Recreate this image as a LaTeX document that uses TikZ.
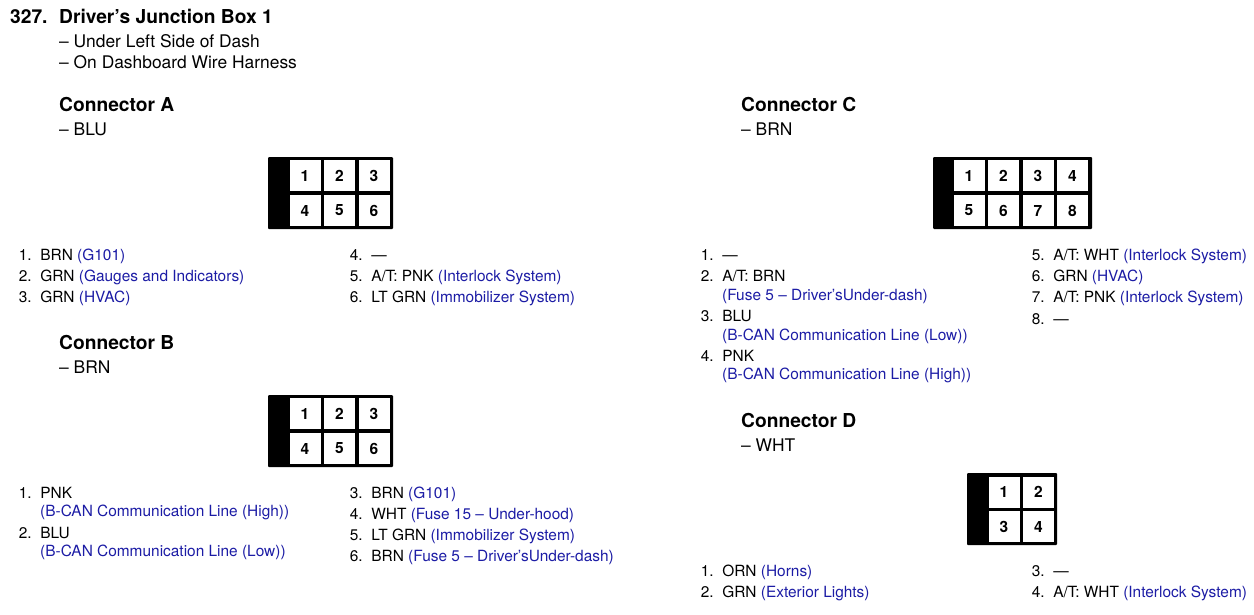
\documentclass[tikz,border=0pt]{standalone}
\usepackage{fontspec}
\setmainfont{TeX Gyre Heros}
\usetikzlibrary{positioning}
\definecolor{wireblue}{RGB}{28,28,165}
\newcommand{\wb}[1]{\textcolor{wireblue}{#1}}
\tikzset{
  title/.style={anchor=base west,inner sep=0pt,font=\fontsize{19.2}{20}\selectfont\bfseries},
  sub/.style={anchor=base west,inner sep=0pt,font=\fontsize{17.4}{20}\selectfont},
  item/.style={anchor=base west,inner sep=0pt,font=\fontsize{15.43}{18}\selectfont},
  shell/.style={fill=black,rounded corners=1pt},
  pin/.style={fill=white,inner sep=0pt,minimum width=31,minimum height=31,font=\fontsize{15.5}{18}\selectfont\bfseries},
}
\begin{document}
\begin{tikzpicture}[x=1pt,y=-1pt]
\useasboundingbox (0,0) rectangle (1254,614);
% heading
\node[title] (num) at (10,23) {327.};
\node[title] (head) at (59,23) {Driver’s Junction Box 1};
\node[sub] (loca) at (59,47) {– Under Left Side of Dash};
\node[sub] (locb) at (59,68) {– On Dashboard Wire Harness};
% connector names
\node[title] (cona) at (59,111) {Connector A};
\node[sub] (cola) at (59,135) {– BLU};
\node[title] (conb) at (59,349) {Connector B};
\node[sub] (colb) at (59,373) {– BRN};
\node[title] (conc) at (741,111) {Connector C};
\node[sub] (colc) at (741,135) {– BRN};
\node[title] (cond) at (741,427) {Connector D};
\node[sub] (cold) at (741,451) {– WHT};
% shells
\fill[shell] (268,157) rectangle (393,229);
\fill[shell] (268,395) rectangle (393,467);
\fill[shell] (933,157) rectangle (1092,229);
\fill[shell] (967,473) rectangle (1057,545);
% pins
\foreach \n/\x/\y in {1/305/175.5,2/339.5/175.5,3/374/175.5,4/305/210.5,5/339.5/210.5,6/374/210.5}
\node[pin] (a\n) at (\x,\y) {\n};
\foreach \n/\x/\y in {1/305/413.5,2/339.5/413.5,3/374/413.5,4/305/448.5,5/339.5/448.5,6/374/448.5}
\node[pin] (b\n) at (\x,\y) {\n};
\foreach \n/\x/\y in {1/969/175.5,2/1003.5/175.5,3/1038/175.5,4/1072.5/175.5,5/969/210.5,6/1003.5/210.5,7/1038/210.5,8/1072.5/210.5}
\node[pin] (c\n) at (\x,\y) {\n};
\foreach \n/\x/\y in {1/1004/492,2/1038.5/492,3/1004/526.5,4/1038.5/526.5}
\node[pin] (d\n) at (\x,\y) {\n};
% connector A list
\node[item] (la1) at (18.7,260) {1.\ \ BRN \wb{(G101)}};
\node[item] (la2) at (18.7,281) {2.\ \ GRN \wb{(Gauges and Indicators)}};
\node[item] (la3) at (18.7,302.5) {3.\ \ GRN \wb{(HVAC)}};
\node[item] (la4) at (349.7,260) {4.\ \ —};
\node[item] (la5) at (349.7,281) {5.\ \ A/T: PNK \wb{(Interlock System)}};
\node[item] (la6) at (349.7,302.5) {6.\ \ LT GRN \wb{(Immobilizer System)}};
% connector B list
\node[item] (lb1) at (18.7,498) {1.\ \ PNK};
\node[item] (lb1x) at (40,516) {\wb{(B-CAN Communication Line (High))}};
\node[item] (lb2) at (18.7,538) {2.\ \ BLU};
\node[item] (lb2x) at (40,556) {\wb{(B-CAN Communication Line (Low))}};
\node[item] (lb3) at (349.7,498) {3.\ \ BRN \wb{(G101)}};
\node[item] (lb4) at (349.7,519) {4.\ \ WHT \wb{(Fuse 15 – Under-hood)}};
\node[item] (lb5) at (349.7,540) {5.\ \ LT GRN \wb{(Immobilizer System)}};
\node[item] (lb6) at (349.7,561.5) {6.\ \ BRN \wb{(Fuse 5 – Driver’sUnder-dash)}};
% connector C list
\node[item] (lc1) at (700.7,260) {1.\ \ —};
\node[item] (lc2) at (700.7,281) {2.\ \ A/T: BRN};
\node[item] (lc2x) at (722,300) {\wb{(Fuse 5 – Driver’sUnder-dash)}};
\node[item] (lc3) at (700.7,321) {3.\ \ BLU};
\node[item] (lc3x) at (722,340) {\wb{(B-CAN Communication Line (Low))}};
\node[item] (lc4) at (700.7,361) {4.\ \ PNK};
\node[item] (lc4x) at (722,379) {\wb{(B-CAN Communication Line (High))}};
\node[item] (lc5) at (1031.7,260) {5.\ \ A/T: WHT \wb{(Interlock System)}};
\node[item] (lc6) at (1031.7,281) {6.\ \ GRN \wb{(HVAC)}};
\node[item] (lc7) at (1031.7,302.5) {7.\ \ A/T: PNK \wb{(Interlock System)}};
\node[item] (lc8) at (1031.7,324) {8.\ \ —};
% connector D list
\node[item] (ld1) at (700.7,576) {1.\ \ ORN \wb{(Horns)}};
\node[item] (ld2) at (700.7,597) {2.\ \ GRN \wb{(Exterior Lights)}};
\node[item] (ld3) at (1031.7,576) {3.\ \ —};
\node[item] (ld4) at (1031.7,597) {4.\ \ A/T: WHT \wb{(Interlock System)}};
\end{tikzpicture}
\end{document}
